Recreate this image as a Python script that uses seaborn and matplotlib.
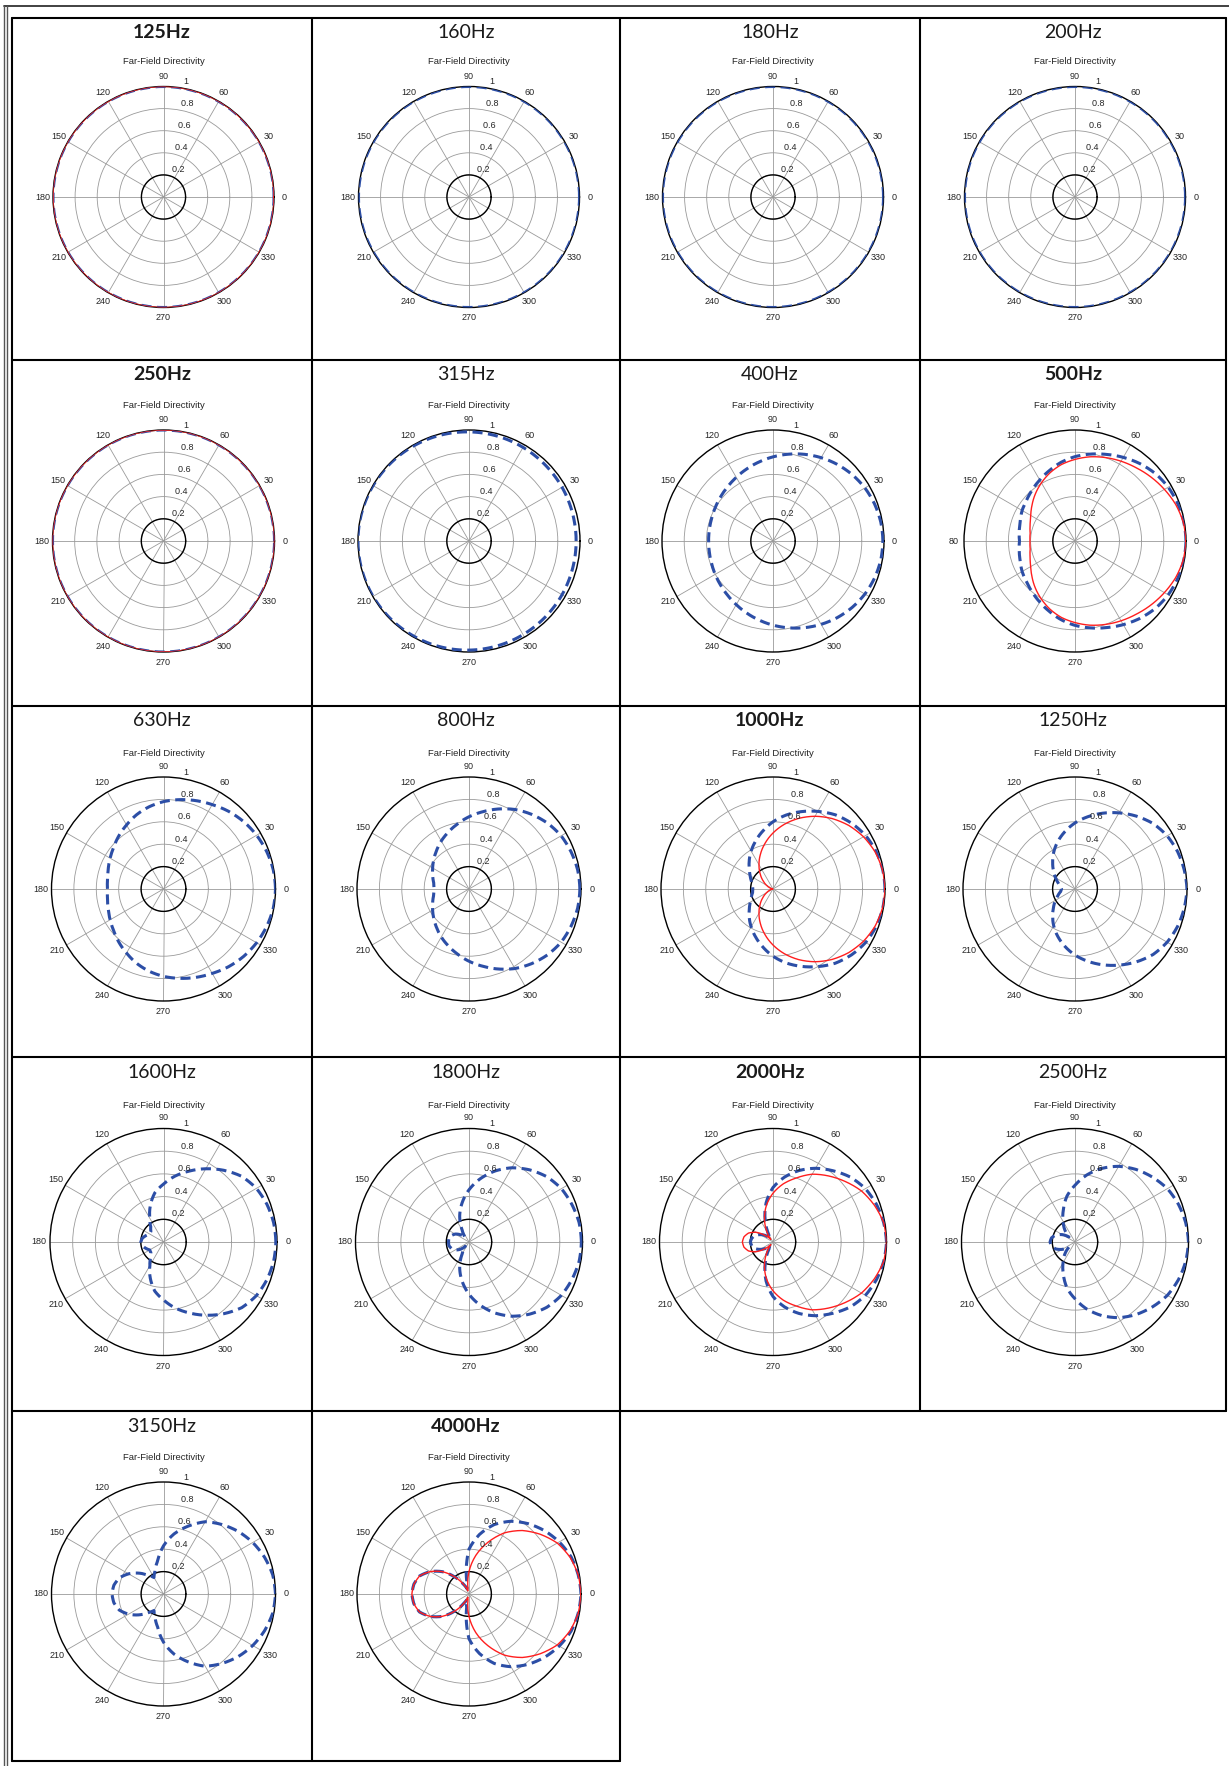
import numpy as np
import matplotlib
matplotlib.use('Agg')
import matplotlib.pyplot as plt
from matplotlib.lines import Line2D
import seaborn as sns

# half-pattern angles (deg); patterns are symmetric about the 0-180 axis
angles = [0, 10, 20, 30, 40, 50, 60, 70, 80, 90, 100, 110, 120, 130, 140, 150, 160, 170, 180]

# predicted (blue dashed) directivity
blue_125 = [1.0, 1.0, 1.0, 1.0, 1.0, 1.0, 1.0, 1.0, 1.0, 1.0, 1.0, 1.0, 1.0, 1.0, 1.0, 1.0, 1.0, 1.0, 1.0]
blue_160 = [1.0, 1.0, 1.0, 1.0, 1.0, 1.0, 1.0, 1.0, 1.0, 1.0, 1.0, 1.0, 1.0, 1.0, 1.0, 1.0, 1.0, 1.0, 1.0]
blue_180 = [1.0, 1.0, 1.0, 1.0, 1.0, 1.0, 1.0, 1.0, 1.0, 1.0, 1.0, 1.0, 1.0, 1.0, 1.0, 1.0, 1.0, 1.0, 1.0]
blue_200 = [1.0, 1.0, 1.0, 1.0, 1.0, 1.0, 1.0, 1.0, 1.0, 1.0, 1.0, 1.0, 1.0, 1.0, 1.0, 1.0, 1.0, 1.0, 1.0]
blue_250 = [1.0, 1.0, 1.0, 1.0, 1.0, 1.0, 1.0, 1.0, 1.0, 1.0, 1.0, 1.0, 1.0, 1.0, 1.0, 1.0, 1.0, 1.0, 1.0]
blue_315 = [0.965, 0.965, 0.966, 0.968, 0.969, 0.971, 0.974, 0.977, 0.980, 0.983, 0.986, 0.989, 0.991, 0.994, 0.996, 0.998, 0.999, 1.0, 1.0]
blue_400 = [0.99, 0.986, 0.974, 0.956, 0.931, 0.901, 0.867, 0.831, 0.794, 0.758, 0.723, 0.691, 0.662, 0.637, 0.617, 0.601, 0.589, 0.582, 0.58]
blue_500 = [1.0, 0.995, 0.985, 0.97, 0.945, 0.91, 0.87, 0.83, 0.795, 0.76, 0.72, 0.675, 0.635, 0.60, 0.57, 0.55, 0.525, 0.51, 0.50]
blue_630 = [1.0, 0.995, 0.98, 0.96, 0.935, 0.905, 0.87, 0.84, 0.81, 0.78, 0.745, 0.705, 0.66, 0.62, 0.58, 0.55, 0.525, 0.507, 0.50]
blue_800 = [0.99, 0.985, 0.97, 0.95, 0.915, 0.87, 0.82, 0.76, 0.70, 0.645, 0.59, 0.54, 0.495, 0.45, 0.41, 0.375, 0.345, 0.32, 0.31]
blue_1000 = [1.0, 0.995, 0.98, 0.955, 0.915, 0.865, 0.80, 0.735, 0.67, 0.60, 0.525, 0.455, 0.39, 0.33, 0.275, 0.235, 0.205, 0.185, 0.18]
blue_1250 = [1.0, 0.99, 0.975, 0.95, 0.91, 0.85, 0.785, 0.72, 0.655, 0.59, 0.52, 0.45, 0.38, 0.31, 0.25, 0.20, 0.16, 0.13, 0.12]
blue_1600 = [0.99, 0.985, 0.97, 0.945, 0.90, 0.825, 0.745, 0.665, 0.59, 0.51, 0.44, 0.34, 0.24, 0.175, 0.145, 0.14, 0.165, 0.19, 0.20]
blue_1800 = [0.99, 0.985, 0.965, 0.94, 0.895, 0.83, 0.755, 0.665, 0.565, 0.46, 0.35, 0.24, 0.12, 0.05, 0.10, 0.14, 0.165, 0.18, 0.18]
blue_2000 = [1.0, 0.99, 0.97, 0.94, 0.89, 0.82, 0.75, 0.67, 0.58, 0.48, 0.35, 0.20, 0.07, 0.04, 0.09, 0.13, 0.17, 0.19, 0.20]
blue_2500 = [1.0, 0.99, 0.97, 0.94, 0.89, 0.835, 0.77, 0.69, 0.60, 0.50, 0.41, 0.30, 0.21, 0.14, 0.07, 0.13, 0.18, 0.21, 0.22]
blue_3150 = [1.0, 0.99, 0.96, 0.92, 0.87, 0.81, 0.745, 0.645, 0.545, 0.43, 0.30, 0.22, 0.17, 0.22, 0.29, 0.36, 0.42, 0.45, 0.46]
blue_4000 = [1.0, 0.99, 0.97, 0.93, 0.88, 0.82, 0.75, 0.66, 0.54, 0.40, 0.12, 0.05, 0.10, 0.20, 0.31, 0.40, 0.47, 0.50, 0.51]

# measured (red solid) directivity, only for the bold-titled bands
red_125 = [1.0, 1.0, 1.0, 1.0, 1.0, 1.0, 1.0, 1.0, 1.0, 1.0, 1.0, 1.0, 1.0, 1.0, 1.0, 1.0, 1.0, 1.0, 1.0]
red_250 = [1.0, 1.0, 1.0, 1.0, 1.0, 1.0, 1.0, 1.0, 1.0, 1.0, 1.0, 1.0, 1.0, 1.0, 1.0, 1.0, 1.0, 1.0, 1.0]
red_500 = [1.0, 0.99, 0.965, 0.93, 0.895, 0.86, 0.83, 0.80, 0.77, 0.735, 0.70, 0.655, 0.605, 0.555, 0.505, 0.46, 0.43, 0.41, 0.405]
red_1000 = [1.0, 0.992, 0.970, 0.933, 0.883, 0.821, 0.75, 0.671, 0.587, 0.5, 0.413, 0.329, 0.25, 0.179, 0.117, 0.067, 0.030, 0.008, 0.0]
red_2000 = [1.0, 0.99, 0.95, 0.90, 0.83, 0.76, 0.69, 0.60, 0.52, 0.43, 0.33, 0.22, 0.11, 0.03, 0.09, 0.17, 0.23, 0.26, 0.27]
red_4000 = [1.0, 0.99, 0.96, 0.91, 0.83, 0.74, 0.63, 0.49, 0.35, 0.20, 0.05, 0.03, 0.10, 0.20, 0.31, 0.40, 0.47, 0.50, 0.51]

bands = ['125Hz', '160Hz', '180Hz', '200Hz', '250Hz', '315Hz', '400Hz', '500Hz', '630Hz',
         '800Hz', '1000Hz', '1250Hz', '1600Hz', '1800Hz', '2000Hz', '2500Hz', '3150Hz', '4000Hz']
blue_curves = [blue_125, blue_160, blue_180, blue_200, blue_250, blue_315, blue_400, blue_500, blue_630,
               blue_800, blue_1000, blue_1250, blue_1600, blue_1800, blue_2000, blue_2500, blue_3150, blue_4000]
red_curves = {'125Hz': red_125, '250Hz': red_250, '500Hz': red_500,
              '1000Hz': red_1000, '2000Hz': red_2000, '4000Hz': red_4000}

BLUE = '#2C4EA6'
RED = '#FF1E1E'
W, H = 1229, 1766

sns.set_style('white')
plt.rcParams['font.family'] = ['Liberation Sans', 'DejaVu Sans']

fig = plt.figure(figsize=(W / 100, H / 100), dpi=100)

# table geometry (pixels)
col_x = [12, 312, 620, 920, 1226]
row_y = [18, 360, 706, 1057, 1411, 1761]
ax_cx = [163.5, 469, 773, 1075]
ax_cy = [197, 541, 889, 1242, 1594]
ax_r = [110.5, 111, 112, 113.5, 112]


def full_pattern(half):
    deg = np.array(angles + [360 - a for a in angles[-2::-1]], dtype=float)
    r = np.array(half + half[-2::-1], dtype=float)
    return np.deg2rad(deg), r


for i, band in enumerate(bands):
    row, col = divmod(i, 4)
    cx, cy, R = ax_cx[col], ax_cy[row], ax_r[row]
    ax = fig.add_axes([(cx - R) / W, 1 - (cy + R) / H, 2 * R / W, 2 * R / H], projection='polar')
    ax.set_facecolor('white')

    th, rb = full_pattern(blue_curves[i])
    sns.lineplot(x=th, y=rb, ax=ax, sort=False, estimator=None, color=BLUE, lw=2.2,
                 linestyle=(0, (3.3, 1.8)), zorder=3)
    if band in red_curves:
        th, rr = full_pattern(red_curves[band])
        sns.lineplot(x=th, y=rr, ax=ax, sort=False, estimator=None, color=RED, lw=1.0, zorder=4)
    # let the polar transform draw the segments as arcs/spirals
    for ln in ax.get_lines():
        ln.get_path()._interpolation_steps = 8

    # inner reference ring
    ring = np.linspace(0, 2 * np.pi, 181)
    ax.plot(ring, np.full_like(ring, 0.2), color='black', lw=1.0, zorder=2.8)

    ax.set_ylim(0, 1)
    ax.set_yticks([0.2, 0.4, 0.6, 0.8])
    ax.set_yticklabels([])
    ax.set_xticks(np.deg2rad(np.arange(0, 360, 30)))
    ax.set_xticklabels([])
    ax.tick_params(length=0)
    ax.grid(True, color='#9a9a9a', lw=0.6)
    ax.spines['polar'].set_color('black')
    ax.spines['polar'].set_linewidth(1.0)
    ax.set_xlabel('')
    ax.set_ylabel('')

    for a in range(0, 360, 30):
        lab = str(a)
        if band == '500Hz' and a == 180:
            lab = '80'
        ax.text(np.deg2rad(a), 1.095, lab, ha='center', va='center', fontsize=6.5,
                color='#262626', clip_on=False)
    for v in [0.2, 0.4, 0.6, 0.8, 1.0]:
        ax.text(np.deg2rad(82), v + 0.01, '  %g' % v, ha='left', va='bottom', fontsize=6.5,
                color='#262626', clip_on=False, zorder=5)

    fig.text(cx / W, 1 - (cy - 136) / H, 'Far-Field Directivity', ha='center', va='center',
             fontsize=6.8, color='#262626')
    tx = (col_x[col] + col_x[col + 1]) / 2
    fig.text(tx / W, 1 - (row_y[row] + 15) / H, band, ha='center', va='center', fontsize=14,
             family=['Lato', 'DejaVu Sans'], color='#1a1a1a',
             fontweight='bold' if band in red_curves else 'normal')


def hline(y, x0, x1, lw=1.5, color='black'):
    fig.add_artist(Line2D([x0 / W, x1 / W], [1 - y / H, 1 - y / H], lw=lw, color=color,
                          transform=fig.transFigure))


def vline(x, y0, y1, lw=1.5, color='black'):
    fig.add_artist(Line2D([x / W, x / W], [1 - y0 / H, 1 - y1 / H], lw=lw, color=color,
                          transform=fig.transFigure))


# table grid
for y in row_y[:5]:
    hline(y, col_x[0], col_x[4])
hline(row_y[5], col_x[0], col_x[2])
for x in col_x:
    vline(x, row_y[0], row_y[4])
for x in col_x[:3]:
    vline(x, row_y[4], row_y[5])

# outer page frame
hline(6, 4, 1229, lw=1.3, color='#333333')
vline(4, 6, 1766, lw=1.0, color='#555555')
vline(7, 6, 1766, lw=1.0, color='#555555')

fig.savefig('out.png', dpi=100, facecolor='white')
